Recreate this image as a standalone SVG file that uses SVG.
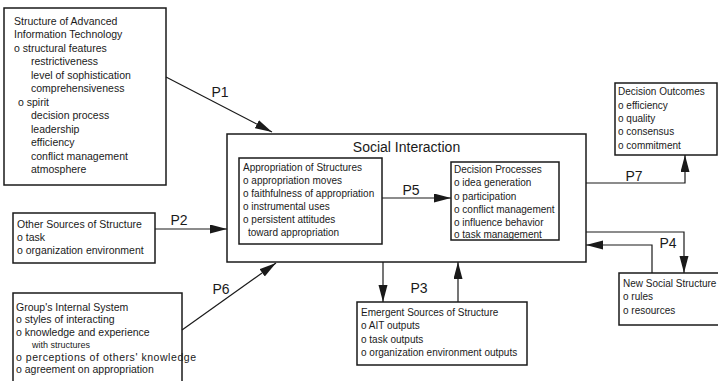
<svg xmlns="http://www.w3.org/2000/svg" width="718" height="381" viewBox="0 0 718 381">
  <style>
    .box { fill: #ffffff; stroke: #1a1a1a; stroke-width: 1.5; }
    .t { font-family: "Liberation Sans", Arial, sans-serif; font-size: 10.5px; fill: #1a1a1a; }
    .ti { font-family: "Liberation Sans", Arial, sans-serif; font-size: 10px; fill: #1a1a1a; }
    .sm { font-size: 9px; }
    .title { font-family: "Liberation Sans", Arial, sans-serif; font-size: 14px; fill: #1a1a1a; }
    .lbl { font-family: "Liberation Sans", Arial, sans-serif; font-size: 14px; fill: #1a1a1a; text-anchor: middle; }
    .wire { fill: none; stroke: #1a1a1a; stroke-width: 1.2; marker-end: url(#head); }
  </style>
  <defs>
    <marker id="head" markerUnits="userSpaceOnUse" markerWidth="18" markerHeight="10" refX="17" refY="4.5" orient="auto">
      <path d="M0,0 L17,4.5 L0,9 z" fill="#1a1a1a"/>
    </marker>
  </defs>
  <rect width="718" height="381" fill="#ffffff"/>

  <!-- Structure of Advanced Information Technology -->
  <g id="ait">
    <rect class="box" x="4" y="8" width="162" height="177"/>
    <text class="t" x="14" y="24.5">Structure of Advanced</text>
    <text class="t" x="14" y="38">Information Technology</text>
    <text class="t" x="14" y="51.5">o structural features</text>
    <text class="t" x="31" y="65">restrictiveness</text>
    <text class="t" x="31" y="78.5">level of sophistication</text>
    <text class="t" x="31" y="92">comprehensiveness</text>
    <text class="t" x="18" y="105.5">o spirit</text>
    <text class="t" x="31" y="119">decision process</text>
    <text class="t" x="31" y="132.5">leadership</text>
    <text class="t" x="31" y="146">efficiency</text>
    <text class="t" x="31" y="159.5">conflict management</text>
    <text class="t" x="31" y="173">atmosphere</text>
  </g>

  <!-- Other Sources of Structure -->
  <g id="other">
    <rect class="box" x="13" y="213" width="142" height="50"/>
    <text class="t" x="17" y="227.5">Other Sources of Structure</text>
    <text class="t" x="17" y="240.5">o task</text>
    <text class="t" x="17" y="253.5">o organization environment</text>
  </g>

  <!-- Group's Internal System -->
  <g id="group">
    <rect class="box" x="13" y="293" width="169" height="95"/>
    <text class="t" x="16" y="310.5">Group's Internal System</text>
    <text class="t" x="16" y="322.5">o styles of interacting</text>
    <text class="t" x="16" y="335.5">o knowledge and experience</text>
    <text class="t sm" x="32" y="347.5">with structures</text>
    <text class="t" x="16" y="360.5" textLength="180" lengthAdjust="spacing">o perceptions of others' knowledge</text>
    <text class="t" x="16" y="372.5">o agreement on appropriation</text>
  </g>

  <!-- Social Interaction -->
  <g id="social">
    <rect class="box" x="227" y="134" width="359" height="128" stroke-width="1.6"/>
    <text class="title" x="406.5" y="152" text-anchor="middle">Social Interaction</text>
  </g>

  <g id="appropriation">
    <rect class="box" x="239" y="158" width="143" height="86"/>
    <text class="ti" x="243" y="170.5">Appropriation of Structures</text>
    <text class="ti" x="243" y="183.5">o appropriation moves</text>
    <text class="ti" x="243" y="196.5">o faithfulness of appropriation</text>
    <text class="ti" x="243" y="209.5">o instrumental uses</text>
    <text class="ti" x="243" y="222.5">o persistent attitudes</text>
    <text class="ti" x="248" y="235.5">toward appropriation</text>
  </g>

  <g id="decision">
    <rect class="box" x="451" y="162" width="108" height="78"/>
    <text class="ti" x="454" y="172.5">Decision Processes</text>
    <text class="ti" x="454" y="186">o idea generation</text>
    <text class="ti" x="454" y="199.5">o participation</text>
    <text class="ti" x="454" y="212.5">o conflict management</text>
    <text class="ti" x="454" y="225.5">o influence behavior</text>
    <text class="ti" x="454" y="238">o task management</text>
  </g>

  <!-- Decision Outcomes -->
  <g id="outcomes">
    <rect class="box" x="615" y="83" width="102" height="72"/>
    <text class="ti" x="618" y="95">Decision Outcomes</text>
    <text class="ti" x="618" y="108.5">o efficiency</text>
    <text class="ti" x="618" y="121.5">o quality</text>
    <text class="ti" x="618" y="135">o consensus</text>
    <text class="ti" x="618" y="148.5">o commitment</text>
  </g>

  <!-- New Social Structure -->
  <g id="newsocial">
    <rect class="box" x="619" y="273" width="104" height="52"/>
    <text class="ti" x="623" y="286.5">New Social Structure</text>
    <text class="ti" x="623" y="300">o rules</text>
    <text class="ti" x="623" y="314">o resources</text>
  </g>

  <!-- Emergent Sources of Structure -->
  <g id="emergent">
    <rect class="box" x="357" y="302" width="170" height="63"/>
    <text class="ti" x="361" y="315.5">Emergent Sources of Structure</text>
    <text class="ti" x="361" y="329">o AIT outputs</text>
    <text class="ti" x="361" y="342.5">o task outputs</text>
    <text class="ti" x="361" y="356">o organization environment outputs</text>
  </g>

  <!-- connectors -->
  <g id="connectors">
    <path class="wire" d="M166,77 L272,132"/>
    <path class="wire" d="M155,229 L227,229"/>
    <path class="wire" d="M182,330 L276,263"/>
    <path class="wire" d="M382,198 L451,198"/>
    <path class="wire" d="M383,262 L383,302"/>
    <path class="wire" d="M458,302 L458,262"/>
    <path class="wire" d="M586,183 L685,183 L685,155"/>
    <path class="wire" d="M586,232 L684,232 L684,273"/>
    <path class="wire" d="M652,273 L652,245 L586,245"/>
    <text class="lbl" x="220" y="97">P1</text>
    <text class="lbl" x="179" y="225">P2</text>
    <text class="lbl" x="221" y="294">P6</text>
    <text class="lbl" x="411" y="195">P5</text>
    <text class="lbl" x="419" y="293">P3</text>
    <text class="lbl" x="634" y="181">P7</text>
    <text class="lbl" x="668" y="248">P4</text>
  </g>
</svg>
